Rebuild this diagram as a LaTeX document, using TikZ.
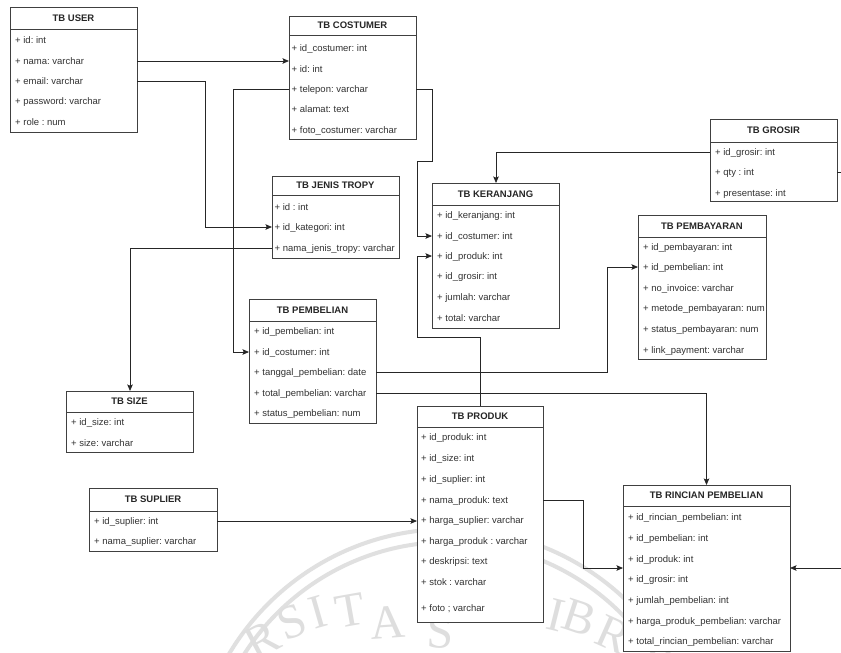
\documentclass[tikz,border=0pt]{standalone}
\usepackage{fontspec}
\setmainfont{Liberation Sans}
\newfontfamily\sealfont{Liberation Serif}
\usetikzlibrary{arrows.meta}

\tikzset{
  tbox/.style={draw=black!75, fill=white, line width=0.9pt, inner sep=0pt, outer sep=0pt, anchor=north west},
  rule/.style={draw=black!75, line width=0.9pt},
  ttitle/.style={font=\fontsize{9.5}{11}\selectfont\bfseries, text=black!85, inner sep=0pt, anchor=base},
  trow/.style={font=\fontsize{9.5}{11}\selectfont, text=black!80, inner sep=0pt, anchor=base west},
  link/.style={draw=black!85, line width=0.8pt},
  tip/.style={-{Stealth[length=6.5pt,width=5.5pt,inset=1.2pt]}},
  sealring/.style={draw=black!12, line width=4pt},
  sealchar/.style={font=\sealfont\fontsize{48}{48}\selectfont, text=black!13, inner sep=0pt},
}

% one entity table: id, x1, y1, x2, y of header rule, y2, title, text inset, rows (y/text)
\newcommand\ertable[9]{%
  \pgfmathsetmacro\ertw{#4-#2}%
  \pgfmathsetmacro\erth{#6-#3}%
  \node[tbox, minimum width=\ertw pt, minimum height=\erth pt] (#1) at (#2,#3) {};
  \draw[rule] (#2,#5) -- (#4,#5);
  \node[ttitle] (#1-t) at ({(#2+#4)/2},{(#3+#5)/2+3.4}) {#7};
  \foreach \ry/\rt [count=\ri] in {#9} {
    \coordinate (#1-\ri) at (#2,\ry);
    \node[trow] (#1-\ri-txt) at (#2+#8,\ry+3.4) {\rt};
  }%
}

\begin{document}
\frenchspacing
\begin{tikzpicture}[x=1pt,y=-1pt]
\useasboundingbox (0,0) rectangle (841,653);
\fill[white] (0,0) rectangle (841,653);

% faint seal behind the tables
\begin{scope}
  \clip (0,0) rectangle (841,653);
  \coordinate (sealc) at (449,785);
  \draw[sealring] (sealc) circle (256);
  \draw[sealring] (sealc) circle (243);
  \foreach \sx/\sy/\sr/\sc in {262/640/28/R, 292/622/22/S, 318/612/16/I, 350/610/10/T,
      388/622/4/A, 440/632/-2/S, 556/615/-14/I, 580/618/-18/B, 614/635/-24/R}
    \node[sealchar, rotate=\sr] at (\sx,\sy) {\sc};
\end{scope}

\ertable{user}{10}{7}{137}{29}{132}{TB USER}{5}{
  40/{+ id: int}, 61/{+ nama: varchar}, 81/{+ email: varchar},
  101/{+ password: varchar}, 122/{+ role : num}}

\ertable{cost}{289}{16}{416}{35}{139}{TB COSTUMER}{2.5}{
  48/{+ id\_costumer: int}, 69/{+ id: int}, 89/{+ telepon: varchar},
  109/{+ alamat: text}, 130/{+ foto\_costumer: varchar}}

\ertable{jenis}{272}{176}{399}{195}{258}{TB JENIS TROPY}{2.5}{
  207/{+ id : int}, 227/{+ id\_kategori: int}, 248/{+ nama\_jenis\_tropy: varchar}}

\ertable{ker}{432}{183}{559}{205}{328}{TB KERANJANG}{5}{
  215/{+ id\_keranjang: int}, 236/{+ id\_costumer: int}, 256/{+ id\_produk: int},
  276/{+ id\_grosir: int}, 297/{+ jumlah: varchar}, 318/{+ total: varchar}}

\ertable{gros}{710}{119}{837}{142}{201}{TB GROSIR}{5}{
  152/{+ id\_grosir: int}, 172/{+ qty : int}, 193/{+ presentase: int}}

\ertable{bayar}{638}{215}{766}{237}{359}{TB PEMBAYARAN}{5}{
  247/{+ id\_pembayaran: int}, 267/{+ id\_pembelian: int}, 288/{+ no\_invoice: varchar},
  308/{+ metode\_pembayaran: num}, 329/{+ status\_pembayaran: num}, 350/{+ link\_payment: varchar}}

\ertable{pemb}{249}{299}{376}{321}{423}{TB PEMBELIAN}{5}{
  331/{+ id\_pembelian: int}, 352/{+ id\_costumer: int}, 372/{+ tanggal\_pembelian: date},
  393/{+ total\_pembelian: varchar}, 413/{+ status\_pembelian: num}}

\ertable{size}{66}{391}{193}{412}{452}{TB SIZE}{5}{
  422/{+ id\_size: int}, 443/{+ size: varchar}}

\ertable{prod}{417}{406}{543}{427}{622}{TB PRODUK}{4}{
  437/{+ id\_produk: int}, 458/{+ id\_size: int}, 479/{+ id\_suplier: int},
  500/{+ nama\_produk: text}, 520/{+ harga\_suplier: varchar}, 541/{+ harga\_produk : varchar},
  561/{+ deskripsi: text}, 582/{+ stok : varchar}, 608/{+ foto ; varchar}}

\ertable{sup}{89}{488}{217}{511}{551}{TB SUPLIER}{5}{
  521/{+ id\_suplier: int}, 541/{+ nama\_suplier: varchar}}

\ertable{rinc}{623}{485}{790}{506}{651}{TB RINCIAN PEMBELIAN}{5}{
  517/{+ id\_rincian\_pembelian: int}, 538/{+ id\_pembelian: int}, 559/{+ id\_produk: int},
  579/{+ id\_grosir: int}, 600/{+ jumlah\_pembelian: int}, 621/{+ harga\_produk\_pembelian: varchar},
  641/{+ total\_rincian\_pembelian: varchar}}

% relations
\draw[link,tip] (user-2 -| user.east) -- (user-2 -| cost.west);
\draw[link,tip] (user-3 -| user.east) -- ++(68,0) |- (jenis-2);
\draw[link,tip] (cost-3) -- ++(-56,0) |- (pemb-2);
\coordinate (kbend) at (417,161);
\draw[link,tip] (cost-3 -| cost.east) -| (kbend -| ker.west) -- (kbend) |- (ker-2);
\coordinate (pbend) at (417,337);
\draw[link,tip] (prod.north) |- (pbend) |- (ker-3);
\draw[link,tip] (gros-1) -| ([xshift=64pt]ker.north west);
\draw[link,tip] (jenis-3) -| ([xshift=64pt]size.north west);
\draw[link,tip] (pemb-3 -| pemb.east) -- ++(231,0) |- (bayar-2);
\draw[link,tip] (pemb-4 -| pemb.east) -| (rinc.north);
\draw[link,tip] (prod-4 -| prod.east) -- ++(40,0) |- (rinc.west);
\draw[link,tip] (sup-1 -| sup.east) -- (sup-1 -| prod.west);
\coordinate (gbend) at (852,172);
\draw[link,tip] (gros-2 -| gros.east) -- (gbend) |- (rinc.east);
\end{tikzpicture}
\end{document}
